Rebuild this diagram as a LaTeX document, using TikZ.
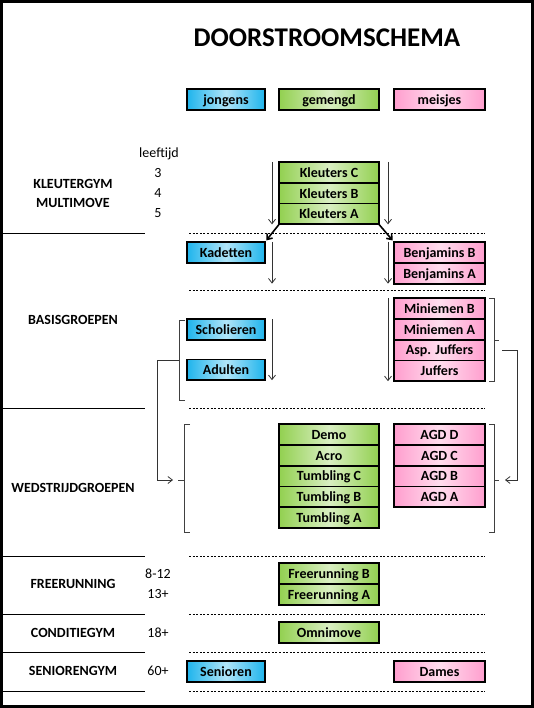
\documentclass[tikz,border=0pt]{standalone}
\usepackage{fontspec}
\setmainfont{Carlito}
\usetikzlibrary{positioning,calc,arrows.meta}

\definecolor{boyblue}{RGB}{30,180,236}
\definecolor{mixgreen}{RGB}{146,208,80}
\definecolor{girlpink}{RGB}{255,158,206}

\begin{document}
\begin{tikzpicture}[x=1pt,y=-1pt,
    every node/.style={font=\fontsize{14}{16}\selectfont,inner sep=0pt,outer sep=0pt,
      text height=11.3pt,text depth=1.5pt},
    group/.style={font=\fontsize{14}{16}\selectfont\bfseries},
    box/.style={draw,line width=1.8pt,minimum height=20.8pt,font=\fontsize{14}{16}\selectfont\bfseries},
    boy/.style={box,minimum width=78pt,left color=boyblue,right color=boyblue,middle color=boyblue!35!white},
    mixed/.style={box,minimum width=100pt,left color=mixgreen,right color=mixgreen,middle color=mixgreen!35!white},
    girl/.style={box,minimum width=91pt,left color=girlpink,right color=girlpink,middle color=girlpink!35!white},
    sep/.style={dash pattern=on 2pt off 1.6pt,line width=0.9pt},
    brack/.style={line width=0.9pt,black!75},
    flow/.style={-{Straight Barb[length=4.5pt,width=7pt]},line width=0.8pt,black!80}]

    \useasboundingbox (0,0) rectangle (534,708);
    \draw[line width=3pt] (1.5,1.5) rectangle (532.5,706.5);

    \node[font=\fontsize{27}{32}\selectfont\bfseries,text height=18pt,text depth=0pt] (title) at (327,38) {DOORSTROOMSCHEMA};

    \node[boy,minimum height=21pt] (jongens) at (226,99.5) {jongens};
    \node[mixed,minimum height=21pt] (gemengd) at (329,99.5) {gemengd};
    \node[girl,minimum height=21pt] (meisjes) at (439.5,99.5) {meisjes};

    \node[group] (kleutergym) at (73,184) {KLEUTERGYM};
    \node[group] (multimove) at (73,203) {MULTIMOVE};
    \node[group] (basis) at (73,320) {BASISGROEPEN};
    \node[group] (wedstrijd) at (73,488) {WEDSTRIJDGROEPEN};
    \node[group] (freerunning) at (73,584) {FREERUNNING};
    \node[group] (conditie) at (73,633) {CONDITIEGYM};
    \node[group] (senioren) at (73,671) {SENIORENGYM};

    \node (leeftijd) at (159,153) {leeftijd};
    \node (age3) at (158,173) {3};
    \node (age4) at (158,193) {4};
    \node (age5) at (158,213) {5};
    \node (age8) at (158,574) {8-12};
    \node (age13) at (158,594) {13+};
    \node (age18) at (158,633) {18+};
    \node (age60) at (158,671) {60+};

    \node[mixed] (kleutersC) at (329,172.4) {Kleuters C};
    \node[mixed,below=0pt of kleutersC] (kleutersB) {Kleuters B};
    \node[mixed,below=0pt of kleutersB] (kleutersA) {Kleuters A};

    \node[boy] (kadetten) at (226,252.4) {Kadetten};
    \node[girl] (benjB) at (439.5,252.4) {Benjamins B};
    \node[girl,below=0pt of benjB] (benjA) {Benjamins A};

    \node[girl] (minB) at (439.5,308.4) {Miniemen B};
    \node[girl,below=0pt of minB] (minA) {Miniemen A};
    \node[girl,below=0pt of minA] (asp) {Asp. Juffers};
    \node[girl,below=0pt of asp] (juffers) {Juffers};
    \node[boy] (scholieren) at (226,329.4) {Scholieren};
    \node[boy] (adulten) at (226,369.8) {Adulten};

    \node[mixed] (demo) at (329,434.4) {Demo};
    \node[mixed,below=0pt of demo] (acro) {Acro};
    \node[mixed,below=0pt of acro] (tumblingC) {Tumbling C};
    \node[mixed,below=0pt of tumblingC] (tumblingB) {Tumbling B};
    \node[mixed,below=0pt of tumblingB] (tumblingA) {Tumbling A};
    \node[girl] (agdD) at (439.5,434.4) {AGD D};
    \node[girl,below=0pt of agdD] (agdC) {AGD C};
    \node[girl,below=0pt of agdC] (agdB) {AGD B};
    \node[girl,below=0pt of agdB] (agdA) {AGD A};

    \node[mixed] (freeB) at (329,573.4) {Freerunning B};
    \node[mixed,below=0pt of freeB] (freeA) {Freerunning A};
    \node[mixed] (omnimove) at (329,632.4) {Omnimove};
    \node[boy] (seniorenbox) at (226,671.4) {Senioren};
    \node[girl] (dames) at (439.5,671.4) {Dames};

    \draw[line width=0.9pt] (0,233) -- (145,233);
    \draw[line width=0.9pt] (0,408) -- (145,408);
    \draw[line width=0.9pt] (0,556) -- (145,556);
    \draw[line width=0.9pt] (0,614) -- (145,614);
    \draw[line width=0.9pt] (0,652) -- (145,652);
    \draw[line width=0.9pt] (0,691) -- (145,691);
    \draw[sep] (189,233) -- (485,233);
    \draw[sep] (189,290) -- (485,290);
    \draw[sep] (189,408) -- (485,408);
    \draw[sep] (189,556) -- (485,556);
    \draw[sep] (189,614) -- (485,614);
    \draw[sep] (189,652) -- (485,652);
    \draw[sep] (189,691) -- (485,691);

    \draw[flow] ([xshift=-7pt]kleutersC.north west) -- ([xshift=-7pt]kleutersA.south west);
    \draw[flow] ([xshift=9pt]kleutersC.north east) -- ([xshift=9pt]kleutersA.south east);
    \draw[flow,line width=1.6pt,black,shorten >=2pt] (kleutersA.south west) -- (kadetten.north east);
    \draw[flow,line width=1.6pt,black,shorten >=2pt] (kleutersA.south east) -- (benjB.north west);
    \draw[flow] ([xshift=7pt]kadetten.north east) -- ([xshift=7pt]kadetten.north east |- benjA.south);
    \draw[flow] ([xshift=-6pt]benjB.north west) -- ([xshift=-6pt]benjA.south west);
    \draw[flow] ([xshift=7pt]scholieren.north east) -- ([xshift=7pt]adulten.south east);
    \draw[flow] ([xshift=-6pt]minB.north west) -- ([xshift=-6pt]juffers.south west);

    \draw[brack] (185,320) -- (179,320) -- (179,400) -- (185,400);
    \draw[brack] (190,424) -- (184,424) -- (184,532) -- (190,532) (184,480) -- (178,480);
    \draw[brack] (489,298) -- (494,298) -- (494,381) -- (489,381) (494,340) -- (499,340);
    \draw[brack] (489,424) -- (494,424) -- (494,532) -- (489,532) (494,480) -- (499,480);

    \coordinate (basistick) at (179,360);
    \coordinate (ministick) at (502,350);
    \coordinate (wedtickL) at (178,480);
    \coordinate (wedtickR) at (499,480);
    \draw[flow,shorten >=5pt] (basistick) -- ++(-22,0) |- (wedtickL);
    \draw[flow,shorten >=6pt] (ministick) -- ++(15,0) |- (wedtickR);
  \end{tikzpicture}
\end{document}
